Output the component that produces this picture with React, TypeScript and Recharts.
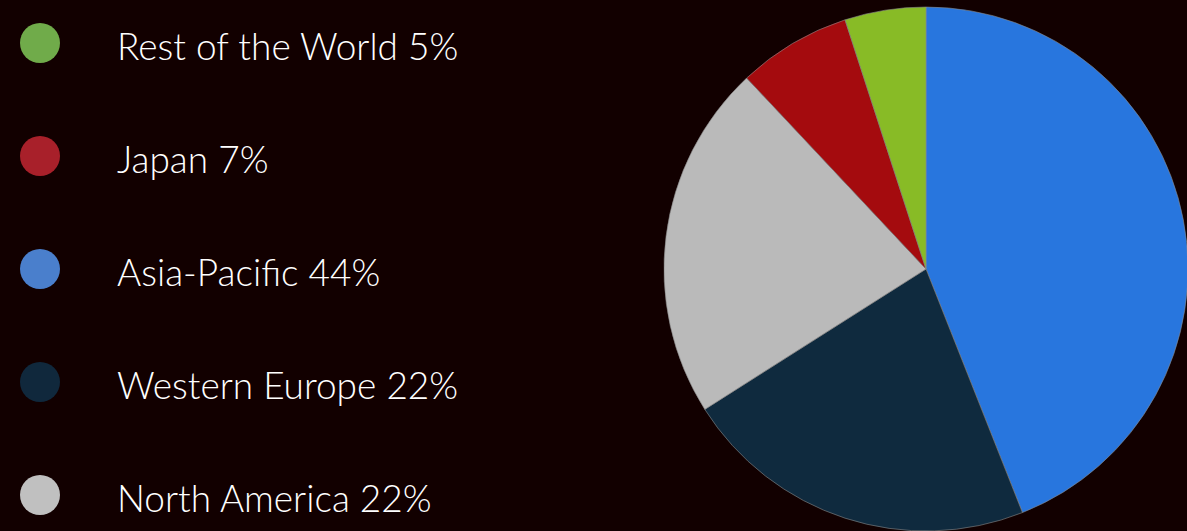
import React from "react";
import { PieChart, Pie, Cell, Legend } from "recharts";

const regions = [
  "Asia-Pacific",
  "Western Europe",
  "North America",
  "Japan",
  "Rest of the World",
];
const shares = [44, 22, 22, 7, 5];
const sliceColors = ["#2876de", "#0f2a3e", "#bababa", "#a40b0e", "#88bb26"];
const legendColors = ["#4a7fcc", "#10283c", "#c0c0c0", "#a8202a", "#70ab4a"];
const legendOrder = [
  "Rest of the World",
  "Japan",
  "Asia-Pacific",
  "Western Europe",
  "North America",
];

const data = regions.map((name, i) => ({ name, value: shares[i] }));

const LegendList = () => (
  <div style={{ position: "relative", width: 520, height: 531 }}>
    {legendOrder.map((name, k) => {
      const i = regions.indexOf(name);
      const cy = 43 + k * 113;
      return (
        <div key={name}>
          <div
            style={{
              position: "absolute",
              left: 20,
              top: cy - 20,
              width: 40,
              height: 40,
              borderRadius: "50%",
              background: legendColors[i],
            }}
          />
          <div
            style={{
              position: "absolute",
              left: 117,
              top: cy - 21,
              height: 48,
              lineHeight: "48px",
              fontFamily: "Lato, 'Noto Sans', sans-serif",
              fontWeight: 300,
              fontSize: 37,
              color: "#ffffff",
              whiteSpace: "nowrap",
            }}
          >
            {name} {shares[i]}%
          </div>
        </div>
      );
    })}
  </div>
);

export default function App() {
  return (
    <div
      style={{
        position: "fixed",
        left: 0,
        top: 0,
        width: 1187,
        height: 531,
        background: "#120000",
        overflow: "hidden",
      }}
    >
      <PieChart width={1187} height={531} margin={{ top: 0, right: 0, bottom: 0, left: 0 }}>
        <Pie
          data={data}
          dataKey="value"
          nameKey="name"
          cx={926}
          cy={269}
          outerRadius={262}
          startAngle={90}
          endAngle={-270}
          stroke="#8a8a8a"
          strokeWidth={0.6}
          isAnimationActive={false}
        >
          {data.map((d, i) => (
            <Cell key={d.name} fill={sliceColors[i]} />
          ))}
        </Pie>
        <Legend
          content={() => <LegendList />}
          wrapperStyle={{ left: 0, top: 0, width: 520, height: 531 }}
        />
      </PieChart>
    </div>
  );
}
